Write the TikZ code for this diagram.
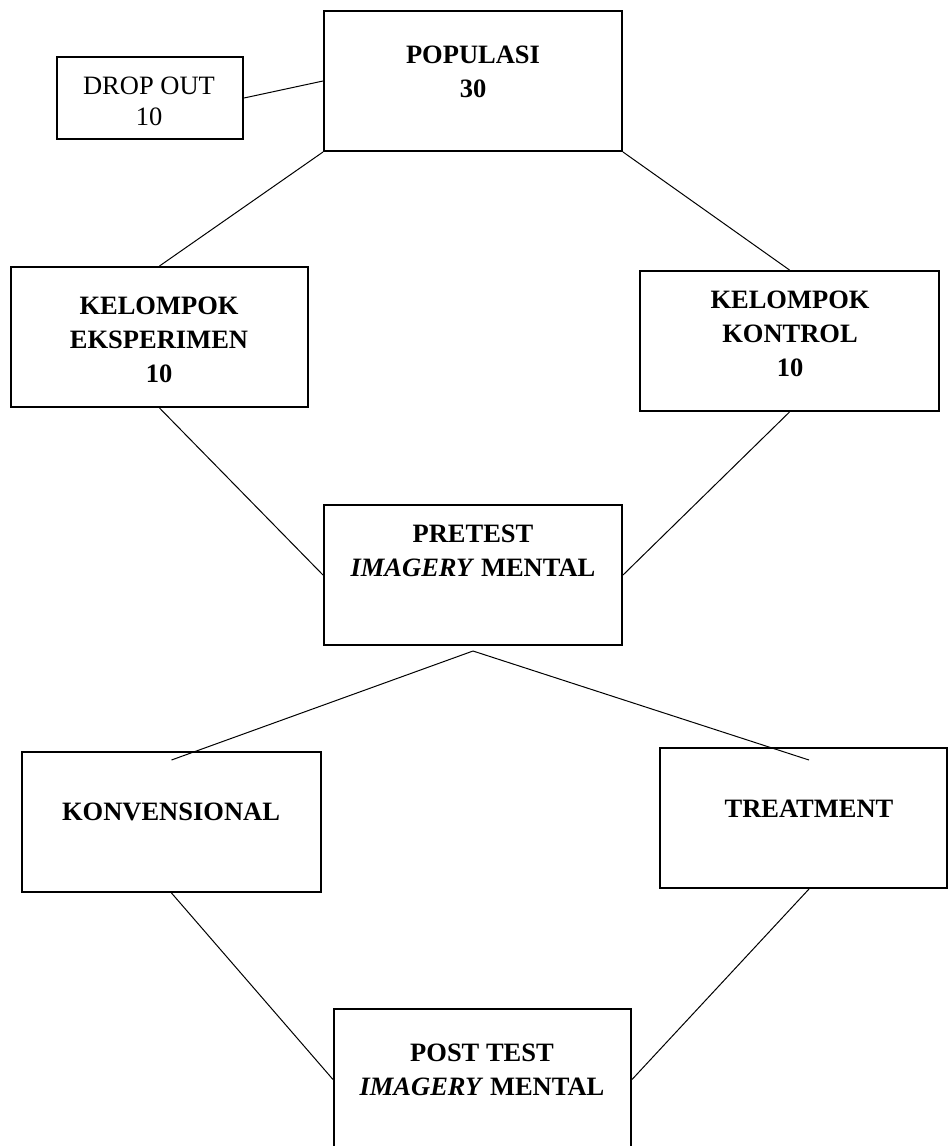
\documentclass[tikz,border=0pt]{standalone}
\usepackage{fontspec}
\setmainfont{Liberation Serif}
\usetikzlibrary{calc}
\begin{document}
\begin{tikzpicture}[x=0.5pt,y=-0.5pt]
        \tikzstyle{boxnode}=[rectangle, draw, line width=1pt, inner sep=0pt, minimum width=149pt, minimum height=70pt]
        \tikzstyle{txt}=[align=center, inner sep=0pt, font=\fontsize{13.25}{17}\selectfont\bfseries]
        \tikzstyle{conn}=[line width=0.5pt]
        \useasboundingbox (0,0) rectangle (949,1146);
        % kotak
        \node[boxnode] (pop) at (473,81) {};
        \node[boxnode, minimum width=93pt, minimum height=41pt] (drop) at (150,98) {};
        \node[boxnode, minimum width=148.5pt] (eks) at (159.5,337) {};
        \node[boxnode, minimum width=149.5pt] (kon) at (789.5,341) {};
        \node[boxnode] (pre) at (473,575) {};
        \node[boxnode, minimum width=149.5pt] (konv) at (171.5,822) {};
        \node[boxnode, minimum width=143.5pt] (treat) at (803.5,818) {};
        \node[boxnode, minimum width=148.5pt, minimum height=70.5pt] (post) at (482.5,1079.5) {};
        % teks
        \node[txt] (popt) at (473,72) {POPULASI\\30};
        \node[txt, font=\fontsize{13.25}{15.5}\selectfont] (dropt) at (149,101) {DROP OUT\\10};
        \node[txt] (ekst) at (159,340) {KELOMPOK\\EKSPERIMEN\\10};
        \node[txt] (kont) at (790,334) {KELOMPOK\\KONTROL\\10};
        \node[txt] (pret) at (473,551) {PRETEST\\\textit{IMAGERY} MENTAL};
        \node[txt] (konvt) at (171,812) {KONVENSIONAL};
        \node[txt] (treatt) at (809,809) {TREATMENT};
        \node[txt] (postt) at (482,1070) {POST TEST\\\textit{IMAGERY} MENTAL};
        % garis
        \coordinate (apex) at ($(pre.south)+(0,5)$);
        \coordinate (konvin) at ($(konv.north)+(0,9)$);
        \coordinate (treatin) at ($(treat.north -| treatt)+(0,13)$);
        \foreach \a/\b in {drop.east/pop.west, pop.south west/eks.north, pop.south east/kon.north,
                eks.south/pre.west, kon.south/pre.east, apex/konvin, apex/treatin,
                konv.south/post.west, treat.south -| treatt/post.east}
            \draw[conn] (\a) -- (\b);
\end{tikzpicture}
\end{document}
